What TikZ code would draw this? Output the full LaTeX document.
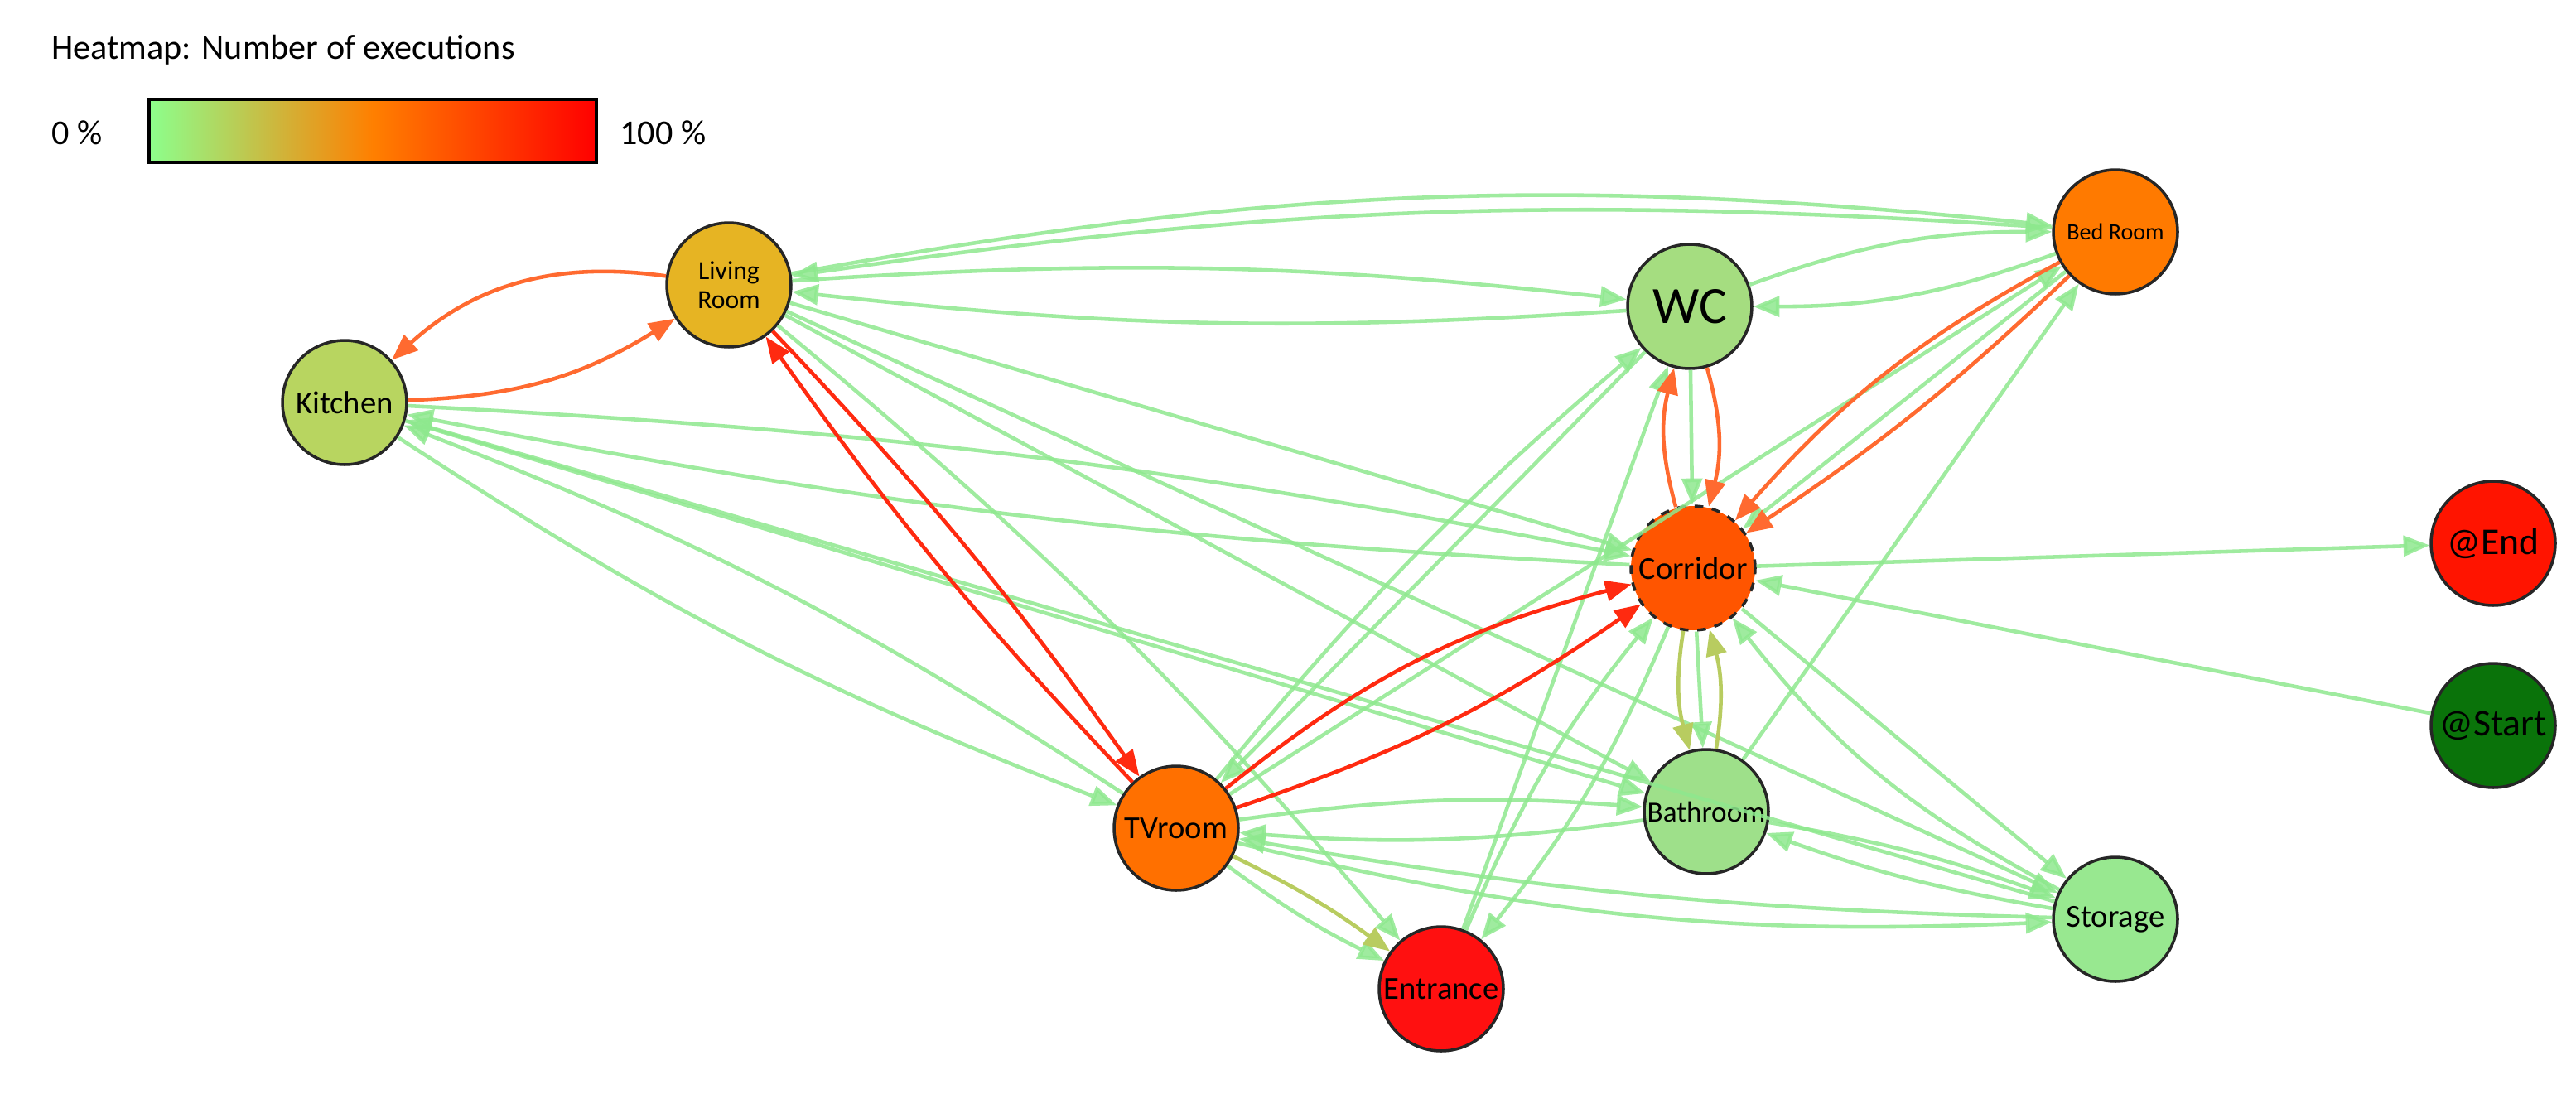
\documentclass[tikz,border=0pt]{standalone}
\usepackage{fontspec}
\setmainfont{Carlito}
\usetikzlibrary{arrows.meta}
\definecolor{eg}{HTML}{8EE88E}
\definecolor{er}{HTML}{FF2A10}
\definecolor{eo}{HTML}{FF6A30}
\definecolor{ey}{HTML}{B8CC60}
\begin{document}
\begin{tikzpicture}[x=0.02cm,y=-0.02cm,
  st/.style={circle,draw=black!85,line width=1pt,minimum size=1.5cm,inner sep=0pt,font=\fontsize{11}{12}\selectfont,align=center},
  eG/.style={-{Triangle[length=9pt,width=7pt]},line width=1.3pt,draw=eg,opacity=0.85},
  eR/.style={eG,draw=er,opacity=1},
  eO/.style={eG,draw=eo,opacity=1},
  eY/.style={eG,draw=ey,opacity=1}]
\useasboundingbox (0,0) rectangle (1555,660);
% legend
\node[anchor=west,font=\fontsize{12}{14}\selectfont] (title) at (25,30) {Heatmap: Number of executions};
\shade[left color=green!45!white,right color=red,middle color=orange] (90,60) rectangle (360,98);
\draw[line width=1.2pt] (90,60) rectangle (360,98);
\node[anchor=west,font=\fontsize{12}{14}\selectfont] (zero) at (25,80) {0 \%};
\node[anchor=west,font=\fontsize{12}{14}\selectfont] (hund) at (368,80) {100 \%};
% nodes
\node[st,fill={rgb,255:red,184;green,213;blue,96}] (K) at (208,243) {Kitchen};
\node[st,fill={rgb,255:red,230;green,180;blue,35},font=\fontsize{9}{10}\selectfont] (L) at (440,172) {Living\\Room};
\node[st,fill={rgb,255:red,165;green,221;blue,128},font=\fontsize{18}{18}\selectfont] (W) at (1020,185) {WC};
\node[st,fill={rgb,255:red,255;green,122;blue,0},font=\fontsize{8}{9}\selectfont] (B) at (1277,140) {Bed Room};
\node[st,fill={rgb,255:red,255;green,85;blue,0},dashed] (C) at (1022,343) {Corridor};
\node[st,fill={rgb,255:red,255;green,20;blue,0},font=\fontsize{13}{14}\selectfont] (E) at (1505,328) {@End};
\node[st,fill={rgb,255:red,10;green,115;blue,10},font=\fontsize{13}{14}\selectfont] (S) at (1505,438) {@Start};
\node[st,fill={rgb,255:red,255;green,112;blue,0}] (T) at (710,500) {TVroom};
\node[st,fill={rgb,255:red,158;green,224;blue,138},font=\fontsize{10}{11}\selectfont] (Ba) at (1030,490) {Bathroom};
\node[st,fill={rgb,255:red,255;green,16;blue,16}] (En) at (870,597) {Entrance};
\node[st,fill={rgb,255:red,152;green,232;blue,144}] (St) at (1277,555) {Storage};
% green edges
\begin{scope}[on background layer/.style={}]
\draw[eG] (L) to[bend left=8] (B);
\draw[eG] (B) to[bend right=6] (L);
\draw[eG] (L) to[bend left=5] (W);
\draw[eG] (W) to[bend left=5] (L);
\draw[eG] (L) to (C);
\draw[eG] (L) to (Ba);
\draw[eG] (L) to (St);
\draw[eG] (L) to[bend left=5] (En);
\draw[eG] (K) to[bend left=4] (C);
\draw[eG] (C) to[bend left=4] (K);
\draw[eG] (K) to[bend right=6] (T);
\draw[eG] (T) to[bend right=6] (K);
\draw[eG] (K) to (Ba);
\draw[eG] (St) to (K);
\draw[eG] (W) to[bend left=10] (B);
\draw[eG] (B) to[bend left=10] (W);
\draw[eG] (W) to (C);
\draw[eG] (T) to[bend left=5] (W);
\draw[eG] (W) to (T);
\draw[eG] (T) to (B);
\draw[eG] (T) to[bend left=6] (Ba);
\draw[eG] (Ba) to[bend left=6] (T);
\draw[eG] (T) to[bend right=8] (St);
\draw[eG] (St) to[bend left=4] (T);
\draw[eG] (T) to[bend right=5] (En);
\draw[eY] (T) to[bend left=5] (En);
\draw[eG] (En) to[bend left=8] (C);
\draw[eG] (C) to[bend left=8] (En);
\draw[eG] (En) to (W);
\draw[eG] (Ba) to[bend left=5] (St);
\draw[eG] (St) to[bend left=5] (Ba);
\draw[eG] (Ba) to (B);
\draw[eG] (St) to[bend left=12] (C);
\draw[eG] (C) to (St);
\draw[eG] (C) to (Ba);
\draw[eG] (B) to (C);
\draw[eG] (C) to (E);
\draw[eG] (S) to (C);
% hot edges
\draw[eO] (L) to[bend right=25] (K);
\draw[eO] (K) to[bend right=15] (L);
\draw[eR] (L) to[bend left=4] (T);
\draw[eR] (T) to[bend left=4] (L);
\draw[eR] (T) to[bend left=12] (C);
\draw[eR] (T) to[bend right=8] (C);
\draw[eO] (C) to[bend left=15] (W);
\draw[eO] (W) to[bend left=15] (C);
\draw[eO] (B) to[bend right=10] (C);
\draw[eO] (B) to[bend left=5] (C);
\draw[eY] (C) to[bend right=12] (Ba);
\draw[eY] (Ba) to[bend right=12] (C);
\end{scope}
\end{tikzpicture}
\end{document}
